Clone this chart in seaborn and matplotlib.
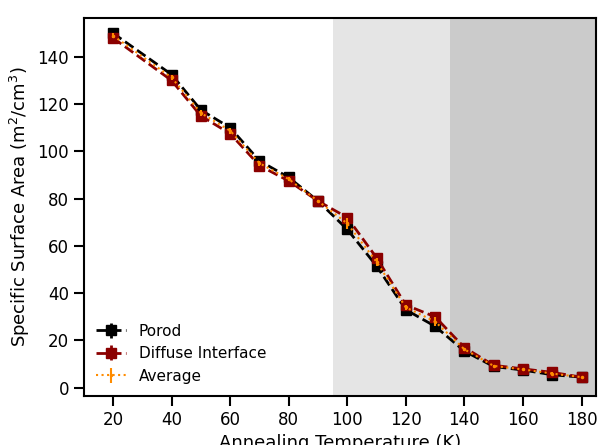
import numpy as np
import matplotlib
matplotlib.use("Agg")
import matplotlib.pyplot as plt
import seaborn as sns

temps = [20, 40, 50, 60, 70, 80, 90, 100, 110, 120, 130, 140, 150, 160, 170, 180]
porod = [150, 132.5, 117.5, 110, 96, 89, 79, 67, 51.5, 33, 26, 15.5, 9, 7.5, 5.5, 4.5]
diffuse = [148, 130, 115, 107.5, 94, 87.5, 79, 72, 55, 35, 30, 17, 9.5, 8, 6.5, 4.5]
porod_err = [1.0] * len(temps)
diffuse_err = [1.0] * len(temps)
average = [(a + b) / 2 for a, b in zip(porod, diffuse)]
average_err = [abs(a - b) / 2 for a, b in zip(porod, diffuse)]

sns.set_theme(style="ticks")
plt.rcParams['font.family'] = ['DejaVu Sans']
for k in ["text.color", "axes.labelcolor", "xtick.color", "ytick.color", "axes.edgecolor"]:
    plt.rcParams[k] = "black"

fig, ax = plt.subplots(figsize=(5.98, 4.45), dpi=100)

ax.axvspan(95, 135, color="#e5e5e5", lw=0, zorder=0)
ax.axvspan(135, 190, color="#cbcbcb", lw=0, zorder=0)

ax.errorbar(temps, porod, yerr=porod_err, fmt="s--", color="black", ms=7.5,
            lw=2, capsize=0, label="Porod", zorder=3)
ax.errorbar(temps, diffuse, yerr=diffuse_err, fmt="s--", color="#8b0000", ms=7.5,
            lw=2, capsize=0, label="Diffuse Interface", zorder=4)
ax.errorbar(temps, average, yerr=average_err, fmt=".:", color="darkorange", ms=3,
            lw=1.5, capsize=0, label="Average", zorder=5)

ax.set_xlim(10, 185)
ax.set_ylim(-3.5, 156.5)
ax.set_xticks([20, 40, 60, 80, 100, 120, 140, 160, 180])
ax.set_yticks([0, 20, 40, 60, 80, 100, 120, 140])
ax.set_xlabel("Annealing Temperature (K)", fontsize=13)
ax.set_ylabel("Specific Surface Area (m$^2$/cm$^3$)", fontsize=13)
ax.tick_params(labelsize=12, length=7, width=1.5)
for s in ax.spines.values():
    s.set_linewidth(1.5)
ax.legend(loc="lower left", frameon=False, fontsize=11, handlelength=2,
          borderaxespad=0.4)

fig.subplots_adjust(left=0.14, right=0.997, top=0.96, bottom=0.11)
fig.savefig("out.png", dpi=100)
